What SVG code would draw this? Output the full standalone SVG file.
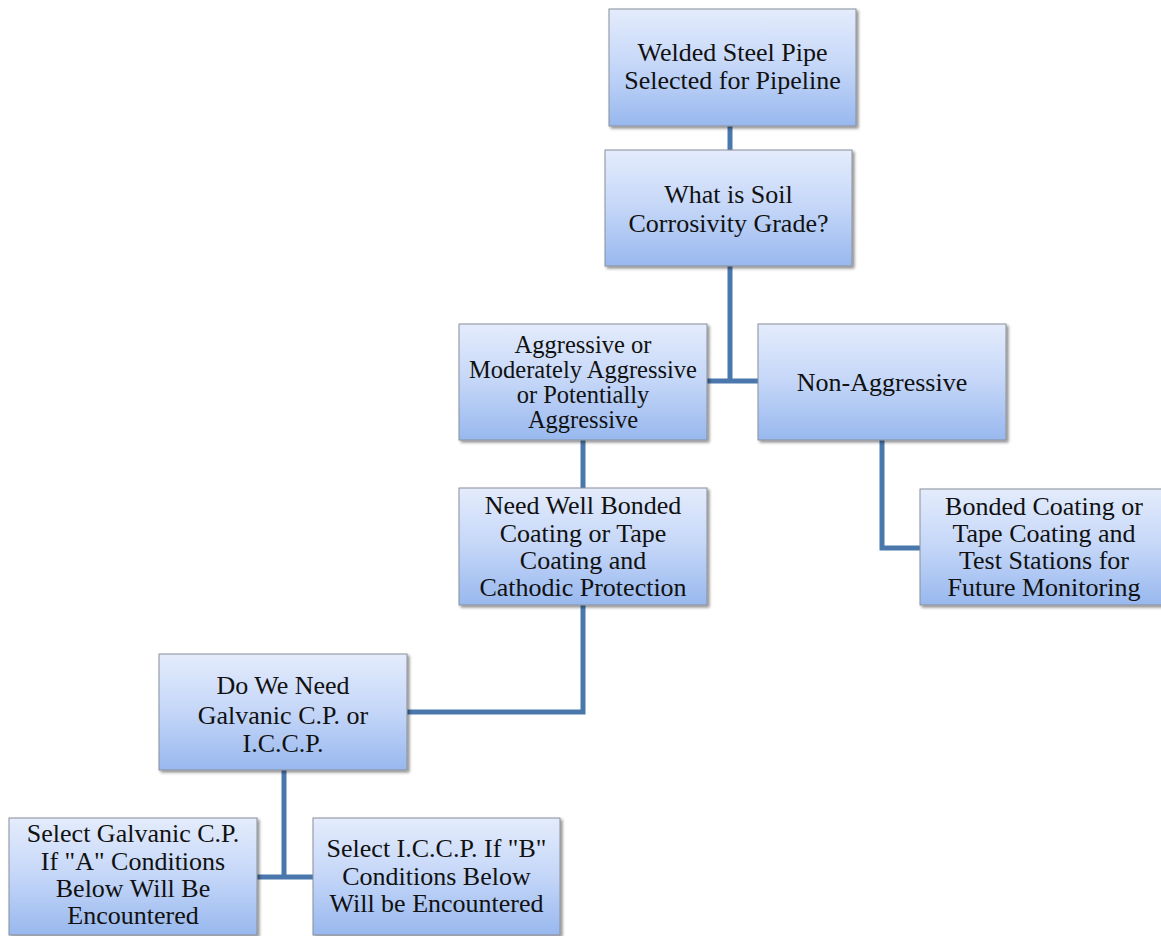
<svg xmlns="http://www.w3.org/2000/svg" width="1161" height="936" viewBox="0 0 1161 936">
<defs>
<linearGradient id="g" x1="0" y1="0" x2="0" y2="1">
<stop offset="0" stop-color="#e4ecfc"/>
<stop offset="0.5" stop-color="#c4d6f8"/>
<stop offset="1" stop-color="#98b8ee"/>
</linearGradient>
<filter id="sh" x="-10%" y="-10%" width="125%" height="130%">
<feGaussianBlur in="SourceAlpha" stdDeviation="1.5"/>
<feOffset dx="2" dy="2" result="b"/>
<feComponentTransfer><feFuncA type="linear" slope="0.45"/></feComponentTransfer>
<feMerge><feMergeNode/><feMergeNode in="SourceGraphic"/></feMerge>
</filter>
</defs>
<style>
.box{fill:url(#g);stroke:#8a8f99;stroke-width:1;filter:url(#sh)}
.t{font-family:"Liberation Serif","Times New Roman",serif;font-size:26px;fill:#111;text-anchor:middle}
.s{font-size:24.5px}
.c{fill:none;stroke:#4a78ad;stroke-width:5}
</style>
<rect width="1161" height="936" fill="#fff"/>
<g id="connectors">
<path class="c" d="M730 126V150"/>
<path class="c" d="M730 266V381M707 381H758"/>
<path class="c" d="M583 440V488"/>
<path class="c" d="M882 440V548H920"/>
<path class="c" d="M583 605V712H407"/>
<path class="c" d="M284 770V877M257 877H313"/>
</g>
<g id="n1"><rect class="box" x="609" y="9" width="247" height="117"/>
<text class="t" x="732.5" y="61">Welded Steel Pipe</text><text class="t" x="732.5" y="89">Selected for Pipeline</text></g>
<g id="n2"><rect class="box" x="605" y="150" width="247" height="116"/>
<text class="t" x="728.5" y="203">What is Soil</text><text class="t" x="728.5" y="232">Corrosivity Grade?</text></g>
<g id="n3"><rect class="box" x="459" y="324" width="248" height="116"/>
<text class="t s" x="583" y="353">Aggressive or</text><text class="t s" x="583" y="378">Moderately Aggressive</text><text class="t s" x="583" y="403">or Potentially</text><text class="t s" x="583" y="428">Aggressive</text></g>
<g id="n4"><rect class="box" x="758" y="324" width="248" height="116"/>
<text class="t" x="882" y="391">Non-Aggressive</text></g>
<g id="n5"><rect class="box" x="459" y="488" width="248" height="117"/>
<text class="t" x="583" y="514">Need Well Bonded</text><text class="t" x="583" y="542">Coating or Tape</text><text class="t" x="583" y="569">Coating and</text><text class="t" x="583" y="596">Cathodic Protection</text></g>
<g id="n6"><rect class="box" x="920" y="489" width="244" height="116"/>
<text class="t" x="1044" y="515">Bonded Coating or</text><text class="t" x="1044" y="542">Tape Coating and</text><text class="t" x="1044" y="569">Test Stations for</text><text class="t" x="1044" y="596">Future Monitoring</text></g>
<g id="n7"><rect class="box" x="159" y="654" width="248" height="116"/>
<text class="t" x="283" y="694">Do We Need</text><text class="t" x="283" y="724">Galvanic C.P. or</text><text class="t" x="283" y="752">I.C.C.P.</text></g>
<g id="n8"><rect class="box" x="9" y="818" width="248" height="117"/>
<text class="t" x="133" y="842">Select Galvanic C.P.</text><text class="t" x="133" y="870">If "A" Conditions</text><text class="t" x="133" y="897">Below Will Be</text><text class="t" x="133" y="924">Encountered</text></g>
<g id="n9"><rect class="box" x="313" y="818" width="247" height="117"/>
<text class="t" x="436.5" y="857">Select I.C.C.P. If "B"</text><text class="t" x="436.5" y="885">Conditions Below</text><text class="t" x="436.5" y="912">Will be Encountered</text></g>
</svg>
